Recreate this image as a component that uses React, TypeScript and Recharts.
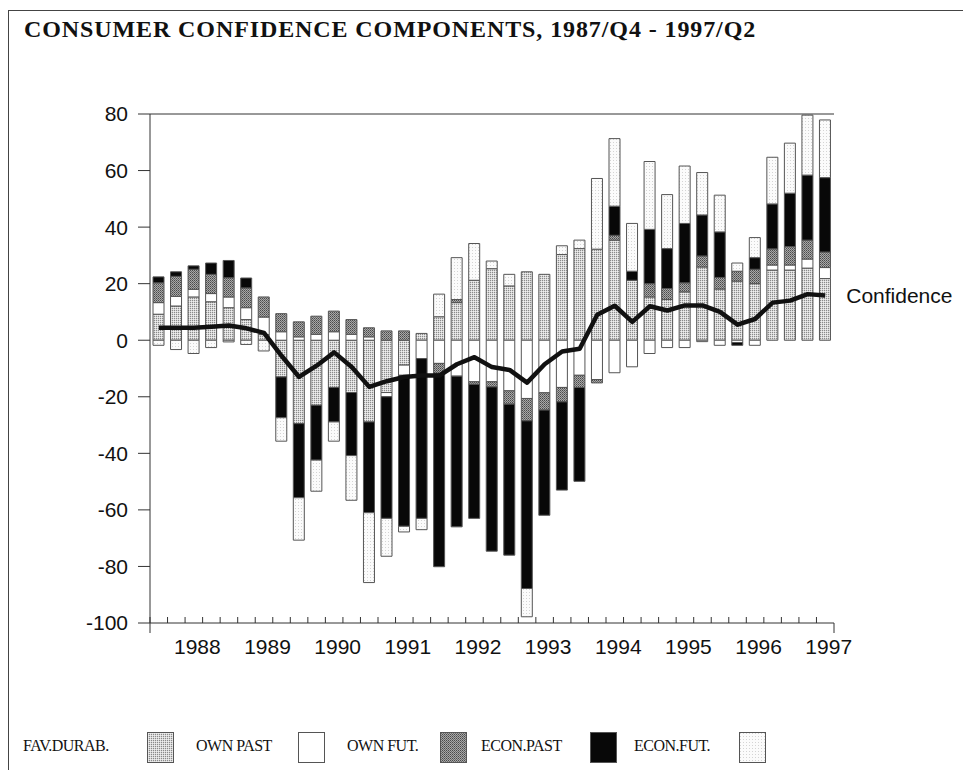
import React from "react";
import {
  ComposedChart,
  Bar,
  Line,
  XAxis,
  YAxis,
  ReferenceLine,
  LabelList,
} from "recharts";

// 1987/Q4 .. 1997/Q2
const quarters = [
  "1987Q4",
  "1988Q1", "1988Q2", "1988Q3", "1988Q4",
  "1989Q1", "1989Q2", "1989Q3", "1989Q4",
  "1990Q1", "1990Q2", "1990Q3", "1990Q4",
  "1991Q1", "1991Q2", "1991Q3", "1991Q4",
  "1992Q1", "1992Q2", "1992Q3", "1992Q4",
  "1993Q1", "1993Q2", "1993Q3", "1993Q4",
  "1994Q1", "1994Q2", "1994Q3", "1994Q4",
  "1995Q1", "1995Q2", "1995Q3", "1995Q4",
  "1996Q1", "1996Q2", "1996Q3", "1996Q4",
  "1997Q1", "1997Q2",
];

const favDurab = [
  9.2, 12.1, 15.3, 13.6, 11.5, 7.3, 2, -13, -29.5, -23, -16.7, -18.5, -28.9,
  -18.5, -8.8, 2.4, 8.3, 13.3, 21.2, 25.3, 19.2, 24.2, 23.3, 30.3, 32.4, 32.2,
  35.4, 21.2, 15.3, 14.4, 17.1, 25.9, 18.1, 20.9, 20, 24.8, 24.8, 25.5, 21.8,
];
const ownPast = [
  4.1, 3.4, 2.7, 2.9, 3.8, 4.2, 6.2, 3, 1.2, 2.1, 3, 2.1, 1.2, -1.5, -3.6,
  -6.5, -8.2, -12.7, -14.7, -14.7, -17.9, -20.6, -18.6, -16.7, -12.4, -13.9,
  -11.5, -9.4, -4.7, -2.6, -2.6, -0.5, -1.8, -0.8, -1.8, 1.8, 1.8, 3.2, 3.9,
];
const ownFut = [
  7.0, 7.1, 7.1, 6.8, 6.8, 7.0, 7.1, 6.4, 5.3, 6.4, 7.3, 5.2, 3.2, 3.3, 3.3, 0,
  -3.5, 1.1, -0.9, -1.8, -4.7, -7.9, -6.1, -5.1, -4.3, -1.2, 1.7, 0, 4.7, 3.9,
  3.2, 3.9, 4.1, 3.5, 5.1, 5.7, 6.5, 6.7, 5.5,
];
const econPast = [
  2.1, 1.6, 1.2, 4.0, 6.1, 3.5, 0, -14.4, -26.2, -19.4, -12.2, -22.3, -32.1,
  -43, -53.4, -56.5, -68.4, -53.3, -47.4, -58.1, -53.4, -59.3, -37.2, -31.2,
  -33.2, 0, 10.3, 3.2, 19.2, 14.1, 21, 14.5, 16.1, -1, 4.1, 15.9, 18.9, 23,
  26.3,
];
const econFut = [
  -1.8, -3.3, -4.7, -2.6, -0.6, -1.5, -3.8, -8.3, -15, -11, -6.8, -15.8,
  -24.7, -13.4, -2, -4, 8, 14.8, 13, 2.7, 4.1, -10, 0, 3.1, 3, 25, 23.9, 16.9,
  24, 19.1, 20.3, 15, 13, 2.9, 7.1, 16.5, 17.7, 21.2, 20.4,
];
const confidence = [
  4.4, 4.4, 4.4, 4.8, 5.2, 4.2, 2.6, -5.5, -13, -9, -4.3, -9.5, -16.5, -14.5,
  -13, -12.5, -12.5, -8.5, -6, -9.5, -10.5, -15, -8.5, -4, -3, 9, 12.2, 6.5,
  12, 10.5, 12.3, 12.3, 10, 5.5, 7.5, 13.3, 14, 16.3, 15.8,
];

const yTicks = [-100, -80, -60, -40, -20, 0, 20, 40, 60, 80];

const series = [
  { key: "favDurab", name: "FAV.DURAB.", fill: "url(#pFav)" },
  { key: "ownPast", name: "OWN PAST", fill: "#ffffff" },
  { key: "ownFut", name: "OWN FUT.", fill: "url(#pOwnFut)" },
  { key: "econPast", name: "ECON.PAST", fill: "#080808" },
  { key: "econFut", name: "ECON.FUT.", fill: "url(#pEconFut)" },
];

// legend layout (label x, box x) in page pixels
const legendLabelX = [23, 196, 347, 481, 634];
const legendBoxX = [147, 298, 440, 590, 739];

const rows = quarters.map((q, i) => ({
  q,
  favDurab: favDurab[i],
  ownPast: ownPast[i],
  ownFut: ownFut[i],
  econPast: econPast[i],
  econFut: econFut[i],
  confidence: confidence[i],
}));

const sans = "'Liberation Sans', Arial, Helvetica, sans-serif";
const serif = "'Liberation Serif', 'Times New Roman', serif";
const PLOT_W = 684;

const QuarterTick = (props: any) => {
  const { x, y, payload, index } = props;
  const half = payload?.offset || PLOT_W / quarters.length / 2;
  const q = String(payload.value);
  const last = index === quarters.length - 1;
  return (
    <g>
      <line x1={x - half} x2={x - half} y1={y} y2={y - 6} stroke="#333" />
      {index === 0 && (
        <line x1={x - half} x2={x - half} y1={y} y2={y + 10} stroke="#333" />
      )}
      {last && (
        <line x1={x + half} x2={x + half} y1={y} y2={y + 10} stroke="#333" />
      )}
      {q.endsWith("Q2") && (
        <text
          x={x + 3.5}
          y={y + 31}
          textAnchor="middle"
          fontSize={21}
          fontFamily={sans}
          fill="#111"
        >
          {q.slice(0, 4)}
        </text>
      )}
    </g>
  );
};

const ConfidenceLabel = (props: any) => {
  const { x, y, index } = props;
  if (index !== quarters.length - 1) return null;
  return (
    <text
      x={x + 21}
      y={y}
      dominantBaseline="central"
      fontSize={21}
      fontFamily={sans}
      fill="#111"
    >
      Confidence
    </text>
  );
};

function Patterns() {
  return (
    <svg width={0} height={0} style={{ position: "absolute" }}>
      <defs>
        <pattern id="pFav" width="2" height="2" patternUnits="userSpaceOnUse">
          <rect width="2" height="2" fill="#d8d8d8" />
          <rect x="0" y="0" width="1" height="1" fill="#8a8a8a" />
          <rect x="1" y="1" width="1" height="1" fill="#eeeeee" />
        </pattern>
        <pattern id="pOwnFut" width="2" height="2" patternUnits="userSpaceOnUse">
          <rect width="2" height="2" fill="#a8a8a8" />
          <rect x="0" y="0" width="1" height="1" fill="#4a4a4a" />
          <rect x="1" y="1" width="1" height="1" fill="#6a6a6a" />
        </pattern>
        <pattern id="pEconFut" width="3" height="3" patternUnits="userSpaceOnUse">
          <rect width="3" height="3" fill="#fbfbfb" />
          <rect x="1" y="1" width="1" height="1" fill="#d4d4d4" />
        </pattern>
      </defs>
    </svg>
  );
}

export default function App() {
  return (
    <div
      style={{
        position: "absolute",
        left: 0,
        top: 0,
        width: 963,
        height: 770,
        background: "#fff",
        overflow: "hidden",
      }}
    >
      <Patterns />
      <div
        style={{
          position: "absolute",
          left: 8,
          top: 10,
          width: 970,
          height: 780,
          borderLeft: "1px solid #444",
          borderTop: "1px solid #444",
        }}
      />
      <div
        style={{
          position: "absolute",
          left: 24,
          top: 17,
          fontFamily: serif,
          fontWeight: "bold",
          fontSize: 24,
          lineHeight: "24px",
          letterSpacing: 0.9,
          whiteSpace: "nowrap",
          color: "#111",
        }}
      >
        CONSUMER CONFIDENCE COMPONENTS, 1987/Q4 - 1997/Q2
      </div>

      <div style={{ position: "absolute", left: 0, top: 0 }}>
        <ComposedChart
          width={963}
          height={700}
          data={rows}
          stackOffset="sign"
          barSize={11}
          margin={{ top: 114, right: 129, bottom: 37, left: 90 }}
        >
          <XAxis
            dataKey="q"
            interval={0}
            tickSize={0}
            tickMargin={0}
            tickLine={false}
            axisLine={{ stroke: "#333" }}
            tick={<QuarterTick />}
            height={40}
          />
          <YAxis
            domain={[-100, 80]}
            ticks={yTicks}
            allowDataOverflow
            width={60}
            tickSize={12}
            tickMargin={10}
            axisLine={{ stroke: "#333" }}
            tickLine={{ stroke: "#333" }}
            tick={{ fontSize: 21, fontFamily: sans, fill: "#111" }}
          />
          <YAxis
            yAxisId="frame"
            orientation="right"
            domain={[-100, 80]}
            width={0}
            tick={false}
            tickLine={false}
            axisLine={{ stroke: "#333" }}
          />
          <ReferenceLine y={80} stroke="#333" />
          {series.map((s) => (
            <Bar
              key={s.key}
              dataKey={s.key}
              name={s.name}
              stackId="c"
              fill={s.fill}
              stroke="#555"
              strokeWidth={1}
              isAnimationActive={false}
            />
          ))}
          <Line
            dataKey="confidence"
            name="Confidence"
            type="linear"
            stroke="#111"
            strokeWidth={4.5}
            strokeLinejoin="round"
            dot={false}
            isAnimationActive={false}
          >
            <LabelList dataKey="confidence" content={<ConfidenceLabel />} />
          </Line>
        </ComposedChart>
      </div>

      {series.map((s, i) => (
        <React.Fragment key={s.key}>
          <div
            style={{
              position: "absolute",
              left: legendLabelX[i],
              top: 736,
              fontFamily: serif,
              fontSize: 16,
              lineHeight: "20px",
              letterSpacing: -0.5,
              whiteSpace: "nowrap",
              color: "#111",
            }}
          >
            {s.name}
          </div>
          <svg
            width={27}
            height={31}
            style={{ position: "absolute", left: legendBoxX[i], top: 732 }}
          >
            <rect
              x={0.5}
              y={0.5}
              width={26}
              height={30}
              fill={s.fill}
              stroke="#555"
            />
          </svg>
        </React.Fragment>
      ))}
    </div>
  );
}
